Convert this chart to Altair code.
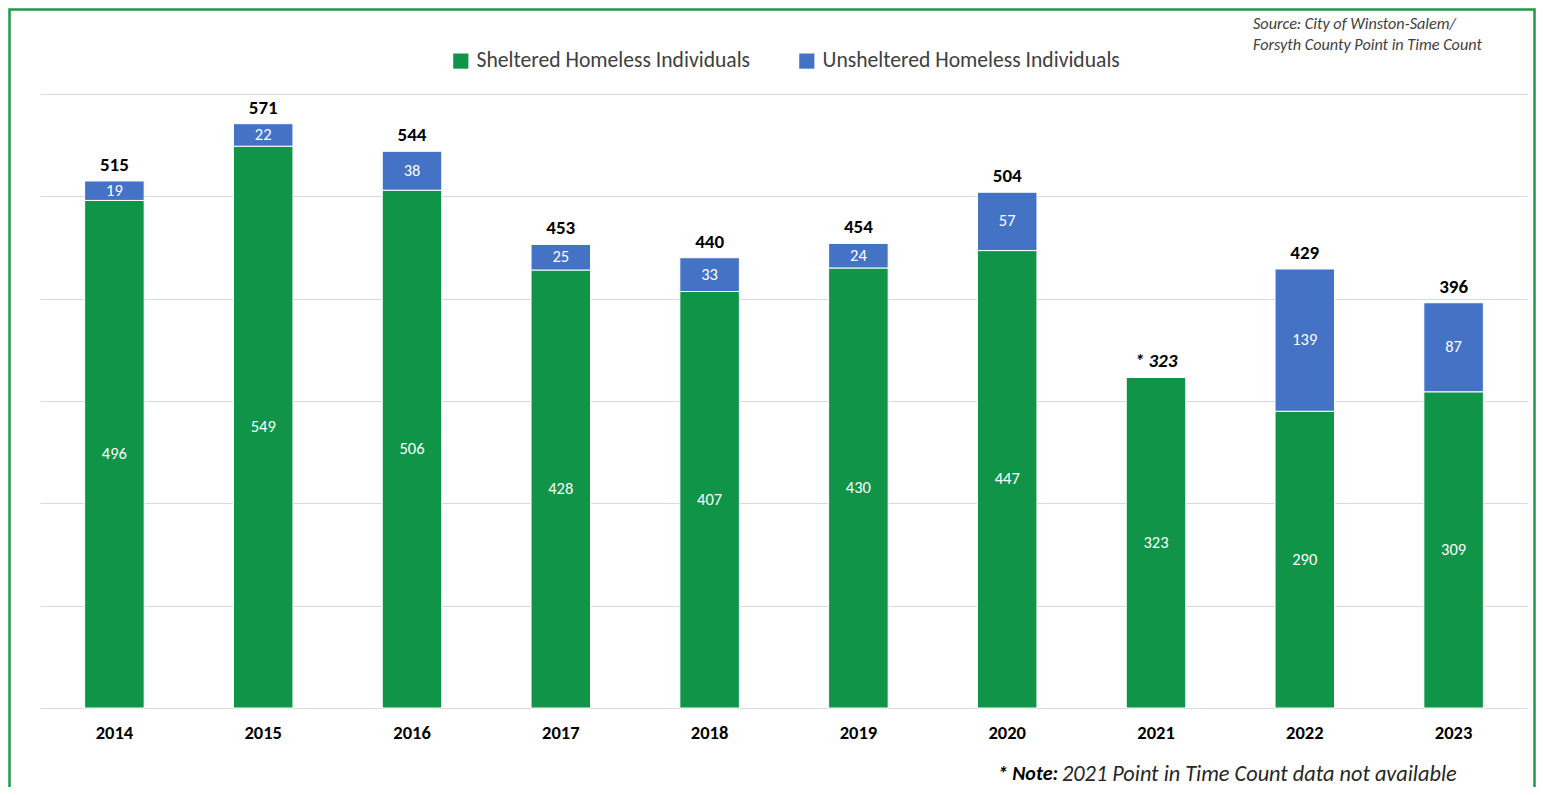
import altair as alt
import pandas as pd

years = ["2014", "2015", "2016", "2017", "2018", "2019", "2020", "2021", "2022", "2023"]
sheltered = [496, 549, 506, 428, 407, 430, 447, 323, 290, 309]
unsheltered = [19, 22, 38, 25, 33, 24, 57, None, 139, 87]
totals = [515, 571, 544, 453, 440, 454, 504, 323, 429, 396]
total_labels = ["515", "571", "544", "453", "440", "454", "504", "* 323", "429", "396"]
total_italic = [False, False, False, False, False, False, False, True, False, False]
series = ["Sheltered Homeless Individuals", "Unsheltered Homeless Individuals"]
colors = ["#109448", "#4472C4"]
source_line1 = "Source: City of Winston-Salem/"
source_line2 = "Forsyth County Point in Time Count"
note_bold = "* Note:"
note_rest = "2021 Point in Time Count data not available"

FONT = "Carlito, Lato, sans-serif"

rows = []
for i, y in enumerate(years):
    rows.append({"year": y, "series": series[0], "value": sheltered[i], "order": 0})
    if unsheltered[i] is not None:
        rows.append({"year": y, "series": series[1], "value": unsheltered[i], "order": 1})
df = pd.DataFrame(rows)

tot = pd.DataFrame({"year": years, "total": totals, "label": total_labels, "italic": total_italic})

xenc = alt.X("year:N", sort=years,
             scale=alt.Scale(paddingInner=0.6, paddingOuter=0.3),
             axis=alt.Axis(title=None, labelAngle=0, labelFontSize=18.5, labelFontWeight="bold",
                           labelColor="#000000", labelFont=FONT, labelPadding=15,
                           domain=False, ticks=False, grid=False))
yscale = alt.Scale(domain=[0, 600], nice=False)

base = alt.Chart(df).transform_stack(
    stack="value", groupby=["year"], as_=["y0", "y1"], sort=[alt.SortField("order")]
).transform_calculate(mid="(datum.y0 + datum.y1) / 2")

bars = base.mark_bar(stroke="white", strokeWidth=1).encode(
    x=xenc,
    y=alt.Y("y0:Q", scale=yscale,
            axis=alt.Axis(title=None, labels=False, ticks=False, domain=False,
                          values=[0, 100, 200, 300, 400, 500, 600],
                          gridColor="#D9D9D9", gridWidth=1)),
    y2="y1:Q",
    color=alt.Color("series:N", scale=alt.Scale(domain=series, range=colors),
                    legend=alt.Legend(title=None, orient="none", direction="horizontal",
                                      legendX=410, legendY=-44, symbolType="square",
                                      symbolSize=230, symbolStrokeWidth=0,
                                      labelFontSize=21.6, labelColor="#404040", labelFont=FONT,
                                      labelLimit=0, labelOffset=5, columnPadding=45, padding=0)),
)

seg_text = base.mark_text(color="white", fontSize=16.5, font=FONT, baseline="middle").encode(
    x=alt.X("year:N", sort=years),
    y=alt.Y("mid:Q", scale=yscale),
    text="value:Q",
)

tot_text = alt.Chart(tot).transform_filter("!datum.italic").mark_text(
    fontSize=19, fontWeight="bold", font=FONT, color="#000000", baseline="alphabetic", dy=-10
).encode(x=alt.X("year:N", sort=years), y=alt.Y("total:Q", scale=yscale), text="label:N")

tot_text_it = alt.Chart(tot).transform_filter("datum.italic").mark_text(
    fontSize=19, fontWeight="bold", fontStyle="italic", font=FONT, color="#000000",
    baseline="alphabetic", dy=-10
).encode(x=alt.X("year:N", sort=years), y=alt.Y("total:Q", scale=yscale), text="label:N")

one = pd.DataFrame({"k": [0]})

src1 = alt.Chart(one).mark_text(
    align="left", baseline="middle", fontSize=16.2, fontStyle="italic", font=FONT, color="#404040"
).encode(x=alt.value(1213), y=alt.value(-70), text=alt.value(source_line1))

src2 = alt.Chart(one).mark_text(
    align="left", baseline="middle", fontSize=16.2, fontStyle="italic", font=FONT, color="#404040"
).encode(x=alt.value(1213), y=alt.value(-49), text=alt.value(source_line2))

note1 = alt.Chart(one).mark_text(
    align="right", baseline="middle", fontSize=20, fontWeight="bold", fontStyle="italic",
    font=FONT, color="#000000"
).encode(x=alt.value(1018), y=alt.value(680), text=alt.value(note_bold))

note2 = alt.Chart(one).mark_text(
    align="left", baseline="middle", fontSize=22.3, fontStyle="italic", font=FONT, color="#262626"
).encode(x=alt.value(1022), y=alt.value(680), text=alt.value(note_rest))

frame = alt.Chart(one).mark_rect(fill=None, stroke="#1E9A48", strokeWidth=2.5).encode(
    x=alt.value(-30.5), x2=alt.value(1494.5), y=alt.value(-84.5), y2=alt.value(712)
)

chart = alt.layer(frame, bars, seg_text, tot_text, tot_text_it, src1, src2, note1, note2).properties(
    width=1488, height=614, autosize="none",
    padding={"left": 32, "top": 86, "right": 8, "bottom": 79},
    background="white",
).configure_view(stroke=None)

chart.save("out.html", embed_options={"renderer": "svg", "actions": False})
